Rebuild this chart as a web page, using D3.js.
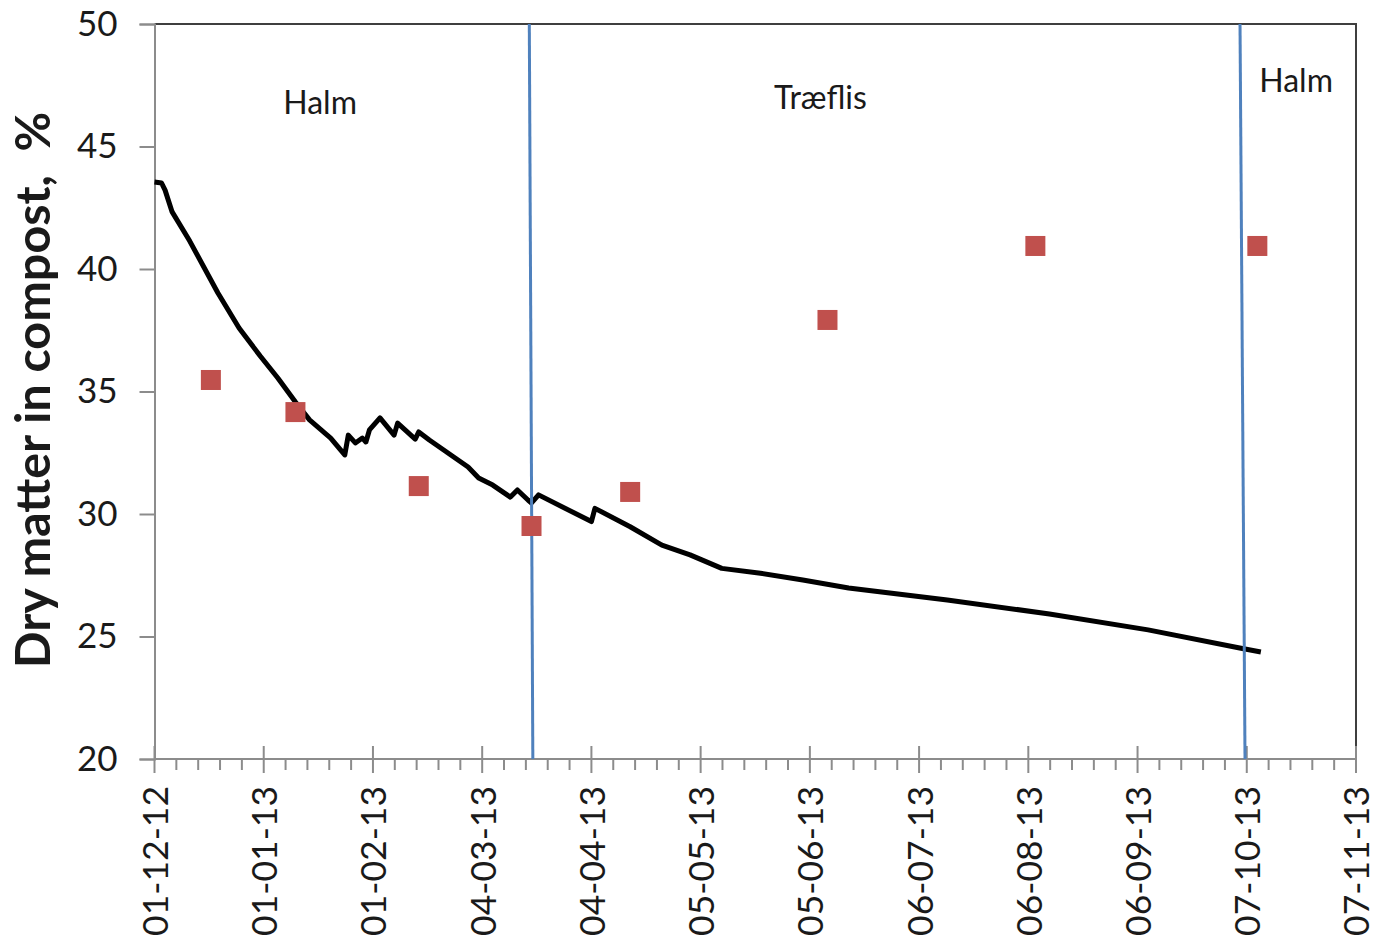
<!DOCTYPE html>
<html><head><meta charset="utf-8">
<script src="https://cdn.jsdelivr.net/npm/d3@7"></script>
<style>
html,body{margin:0;padding:0;background:#fff;}
svg{display:block;}
text{font-family:Lato,"Open Sans",sans-serif;fill:#1a1a1a;}
</style></head><body>
<svg id="chart" width="1379" height="943"></svg>
<script>
// ---- data ----
const lineDates = ["2012-12-01","2012-12-03","2012-12-04","2012-12-06","2012-12-11","2012-12-19","2012-12-25","2012-12-31",
  "2013-01-05","2013-01-10","2013-01-14","2013-01-20","2013-01-24","2013-01-25","2013-01-27","2013-01-29","2013-01-30","2013-01-31",
  "2013-02-03","2013-02-07","2013-02-08","2013-02-13","2013-02-14","2013-02-17","2013-02-28",
  "2013-03-03","2013-03-07","2013-03-12","2013-03-14","2013-03-17","2013-03-18","2013-03-20",
  "2013-04-04","2013-04-05","2013-04-15","2013-04-24","2013-05-02","2013-05-11","2013-05-22",
  "2013-06-03","2013-06-16","2013-07-14","2013-08-12","2013-09-09","2013-10-05","2013-10-11"];
const lineValues = [43.55,43.51,43.22,42.33,41.14,39.02,37.59,36.45,
  35.55,34.57,33.84,33.10,32.41,33.22,32.90,33.10,32.94,33.43,
  33.92,33.22,33.71,33.06,33.35,33.02,31.92,
  31.47,31.18,30.69,30.98,30.57,30.45,30.78,
  29.69,30.23,29.48,28.73,28.33,27.78,27.58,
  27.31,26.98,26.49,25.92,25.27,24.53,24.37];
const measuredDates = ["2012-12-17","2013-01-10","2013-02-14","2013-03-18","2013-04-15","2013-06-10","2013-08-08","2013-10-10"];
const measuredValues = [35.47,34.16,31.14,29.51,30.90,37.92,40.94,40.94];
const dividerTop = ["2013-03-17T09:00","2013-10-05T02:00"];
const dividerBottom = ["2013-03-18T09:00","2013-10-06T12:00"];
const dividerValues = [50, 20];
const regionLabels = ["Halm","Træflis","Halm"];
const regionLabelDates = ["2013-01-17","2013-06-08","2013-10-21"];
const regionLabelValues = [46.8, 47.0, 47.7];
const xTickLabels = ["01-12-12","01-01-13","01-02-13","04-03-13","04-04-13","05-05-13","05-06-13","06-07-13","06-08-13","06-09-13","07-10-13","07-11-13"];
const yTicks = [20,25,30,35,40,45,50];
const yTitle = "Dry matter in compost,  %";

// ---- scales ----
const parse = d3.timeParse("%Y-%m-%d");
const parseT = d3.timeParse("%Y-%m-%dT%H:%M");
const tickParse = d3.timeParse("%d-%m-%y");
const xStart = parse("2012-12-01"), xEnd = parse("2013-11-07");
const x = d3.scaleTime().domain([xStart, xEnd]).range([154.5, 1356]);
const y = d3.scaleLinear().domain([20, 50]).range([759, 24]);

const svg = d3.select("#chart");

// plot border (top/right)
svg.append("path")
  .attr("d", `M${x(xStart)},${y(50)}H${x(xEnd)}V${y(20)}`)
  .attr("fill","none").attr("stroke","#3f3f3f").attr("stroke-width",2);

// y axis
const yAxis = d3.axisLeft(y).tickValues(yTicks).tickSize(15).tickPadding(22).tickFormat(d3.format("d"));
const gy = svg.append("g").attr("transform",`translate(${x(xStart)},0)`).call(yAxis);
gy.select(".domain").attr("stroke","#8c8c8c").attr("stroke-width",2);
gy.selectAll(".tick line").attr("stroke","#8c8c8c").attr("stroke-width",2);
gy.selectAll(".tick text").style("font-size","35px").attr("fill","#1a1a1a").style("font-family","Lato");

// x axis: major ticks every 31 days, 5 minor per interval
const majorDates = xTickLabels.map(s => tickParse(s));
const minorDates = [];
for (let i = 0; i < majorDates.length - 1; i++) {
  const a = +majorDates[i], b = +majorDates[i+1];
  for (let k = 1; k < 5; k++) minorDates.push(new Date(a + (b - a) * k / 5));
}
const gx = svg.append("g").attr("transform",`translate(0,${y(20)})`);
gx.append("line").attr("x1",x(xStart)).attr("x2",x(xEnd)).attr("y1",0).attr("y2",0)
  .attr("stroke","#8c8c8c").attr("stroke-width",2);
gx.selectAll("line.minor").data(minorDates).join("line").attr("class","minor")
  .attr("x1",d=>x(d)).attr("x2",d=>x(d)).attr("y1",0).attr("y2",11)
  .attr("stroke","#8c8c8c").attr("stroke-width",2);
gx.selectAll("line.major").data(majorDates).join("line").attr("class","major")
  .attr("x1",d=>x(d)).attr("x2",d=>x(d)).attr("y1",-13).attr("y2",14)
  .attr("stroke","#8c8c8c").attr("stroke-width",2);
gx.selectAll("text").data(xTickLabels).join("text")
  .attr("transform",(d)=>`translate(${x(tickParse(d))+1},27) rotate(-90)`)
  .attr("text-anchor","end").attr("dy","0.35em")
  .style("font-size","35.5px").text(d=>d);

// y title
svg.append("text")
  .attr("transform",`translate(33,390) rotate(-90)`)
  .attr("text-anchor","middle").attr("dy","0.35em")
  .style("white-space","pre")
  .style("font-size","48.5px").style("font-weight","bold").attr("fill","#000")
  .text(yTitle);

// model line
const lineData = lineDates.map((d,i)=>({d:parse(d), v:lineValues[i]}));
svg.append("path").datum(lineData)
  .attr("d", d3.line().x(p=>x(p.d)).y(p=>y(p.v)))
  .attr("fill","none").attr("stroke","#000").attr("stroke-width",5)
  .attr("stroke-linejoin","round");

// divider lines
dividerTop.forEach((t,i)=>{
  svg.append("line")
    .attr("x1",x(parseT(t))).attr("y1",y(dividerValues[0]))
    .attr("x2",x(parseT(dividerBottom[i]))).attr("y2",y(dividerValues[1]))
    .attr("stroke","#4f81bd").attr("stroke-width",3);
});

// measured points
const sq = 20;
svg.selectAll("rect.pt").data(measuredDates.map((d,i)=>({d:parse(d), v:measuredValues[i]})))
  .join("rect").attr("class","pt")
  .attr("x",p=>x(p.d)-sq/2).attr("y",p=>y(p.v)-sq/2)
  .attr("width",sq).attr("height",sq).attr("fill","#c0504d");

// region labels
svg.selectAll("text.region").data(regionLabels).join("text").attr("class","region")
  .attr("x",(d,i)=>x(parse(regionLabelDates[i])))
  .attr("y",(d,i)=>y(regionLabelValues[i]))
  .attr("text-anchor","middle").attr("dy","0.35em")
  .style("font-size","32px").text(d=>d);
</script>
</body></html>
